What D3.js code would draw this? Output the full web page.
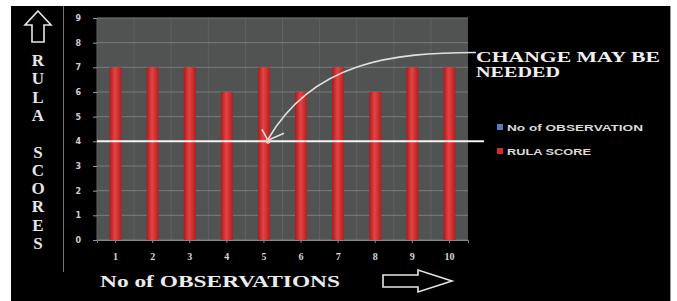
<!DOCTYPE html>
<html>
<head>
<meta charset="utf-8">
<script src="https://cdn.jsdelivr.net/npm/d3@7"></script>
<style>
  body { margin: 0; background: #fff; }
  svg { display: block; }
</style>
</head>
<body>
<div class="chart"></div>
<script>
// data
const observations = ["1", "2", "3", "4", "5", "6", "7", "8", "9", "10"];
const rulaScores = [7, 7, 7, 6, 7, 6, 7, 6, 7, 7];
const yTicks = [0, 1, 2, 3, 4, 5, 6, 7, 8, 9];
const legendItems = ["No of OBSERVATION", "RULA SCORE"];
const legendColors = ["#4f81bd", "#d42c2c"];
const thresholdScore = 4;

const W = 677, H = 301;
let margin = { top: 18, right: 209, bottom: 61, left: 97 },
    width = W - margin.left - margin.right,
    height = H - margin.top - margin.bottom;

let svg = d3.select(".chart").append("svg")
  .attr("width", W)
  .attr("height", H);

// black frame
svg.append("rect").attr("x", 11).attr("y", 6).attr("width", 659).attr("height", H - 6).attr("fill", "#000");
svg.append("line").attr("x1", 670.5).attr("x2", 670.5).attr("y1", 6).attr("y2", H)
  .attr("stroke", "#999").attr("stroke-width", 1);

let defs = svg.append("defs");
let grad = defs.append("linearGradient").attr("id", "barGrad").attr("x1", "0").attr("x2", "1").attr("y1", "0").attr("y2", "0");
grad.append("stop").attr("offset", "0%").attr("stop-color", "#a81c1c");
grad.append("stop").attr("offset", "45%").attr("stop-color", "#e84242");
grad.append("stop").attr("offset", "100%").attr("stop-color", "#b01f1f");

let g = svg.append("g").attr("transform", "translate(" + margin.left + "," + margin.top + ")");

let x = d3.scaleBand().domain(observations).range([0, width]).padding(0);
let y = d3.scaleLinear().domain([0, 9]).range([height, 0]);

g.append("rect").attr("width", width).attr("height", height).attr("fill", "#515353");

// faint vertical stripes
g.selectAll(".vgrid")
  .data(observations)
  .join("line")
  .attr("x1", d => x(d)).attr("x2", d => x(d))
  .attr("y1", 0).attr("y2", height)
  .attr("stroke", "#5e6262").attr("stroke-width", 1);

g.selectAll(".hgrid")
  .data(yTicks)
  .join("line")
  .attr("x1", 0).attr("x2", width)
  .attr("y1", d => y(d)).attr("y2", d => y(d))
  .attr("stroke", "#7a7c7c").attr("stroke-width", 1);

const barW = 12;
g.selectAll(".bar")
  .data(rulaScores)
  .join("rect")
  .attr("x", (d, i) => x(observations[i]) + x.bandwidth() / 2 - barW / 2)
  .attr("y", d => y(d))
  .attr("width", barW)
  .attr("height", d => height - y(d))
  .attr("fill", "url(#barGrad)");

// axes
let yAxis = g.append("g").call(d3.axisLeft(y).tickValues(yTicks).tickSize(4).tickPadding(12));
yAxis.select(".domain").remove();
yAxis.selectAll("line").attr("stroke", "#999");
yAxis.selectAll("text").attr("fill", "#cfcfcf").attr("font-family", "DejaVu Sans").attr("font-size", 8).attr("font-weight", "bold");

let xAxis = g.append("g").attr("transform", "translate(0," + height + ")")
  .call(d3.axisBottom(x).tickSize(3).tickPadding(10));
xAxis.select(".domain").attr("stroke", "#888");
xAxis.selectAll("line").attr("stroke", "#888");
xAxis.selectAll("text").attr("fill", "#d8d8d8").attr("font-family", "Liberation Serif").attr("font-size", 10).attr("font-weight", "bold");

// threshold line at score 4
g.append("line")
  .attr("x1", 0).attr("x2", width + 16)
  .attr("y1", y(thresholdScore)).attr("y2", y(thresholdScore))
  .attr("stroke", "#f4f4f4").attr("stroke-width", 2);

// annotation arrow
const tipX = x("5") + x.bandwidth() / 2 + 4, tipY = y(thresholdScore);
const startX = width + 8, startY = y(7.6);
g.append("path")
  .attr("d", "M" + startX + "," + startY + " C" + (startX - 83) + "," + (startY) + " " + (startX - 163) + "," + (startY + 9) + " " + tipX + "," + (tipY - 2))
  .attr("fill", "none").attr("stroke", "#e0e0e0").attr("stroke-width", 1.6);
g.append("path")
  .attr("d", "M" + (tipX - 6) + "," + (tipY - 12) + " L" + tipX + "," + (tipY - 1) + " L" + (tipX + 16) + "," + (tipY - 8))
  .attr("fill", "none").attr("stroke", "#e0e0e0").attr("stroke-width", 1.6);
g.append("circle").attr("cx", tipX).attr("cy", tipY).attr("r", 2.5).attr("fill", "#f6c8c8");

svg.append("text").attr("x", 476).attr("y", 62).text("CHANGE MAY BE")
  .attr("fill", "#f0f0f0").attr("font-family", "Liberation Serif").attr("font-weight", "bold")
  .attr("font-size", 14).attr("textLength", 184).attr("lengthAdjust", "spacingAndGlyphs");
svg.append("text").attr("x", 476).attr("y", 77).text("NEEDED")
  .attr("fill", "#f0f0f0").attr("font-family", "Liberation Serif").attr("font-weight", "bold")
  .attr("font-size", 14).attr("textLength", 84).attr("lengthAdjust", "spacingAndGlyphs");

// legend
let legend = svg.append("g").attr("transform", "translate(497,124)");
legend.selectAll("rect").data(legendItems).join("rect")
  .attr("x", 0).attr("y", (d, i) => i * 24).attr("width", 6).attr("height", 6)
  .attr("fill", (d, i) => legendColors[i]);
legend.selectAll("text").data(legendItems).join("text")
  .attr("x", 10).attr("y", (d, i) => i * 24 + 7)
  .attr("fill", "#dcdcdc").attr("font-family", "Liberation Sans").attr("font-weight", "bold").attr("font-size", 9)
  .attr("textLength", (d, i) => i === 0 ? 136 : 84).attr("lengthAdjust", "spacingAndGlyphs")
  .text(d => d);

// y title: stacked letters with up arrow
svg.append("line").attr("x1", 63.5).attr("x2", 63.5).attr("y1", 6).attr("y2", 272)
  .attr("stroke", "#777").attr("stroke-width", 1);
svg.append("path")
  .attr("d", "M38,11 L51,25 L44,25 L44,42 L32,42 L32,25 L25,25 Z")
  .attr("fill", "none").attr("stroke", "#e6e6e6").attr("stroke-width", 1.6);
const yTitle = ["R", "U", "L", "A", "", "S", "C", "O", "R", "E", "S"];
svg.selectAll(".ytitle").data(yTitle).join("text")
  .attr("x", 38).attr("y", (d, i) => 66 + i * 18.3)
  .attr("text-anchor", "middle")
  .attr("fill", "#e6e6e6").attr("font-family", "Liberation Serif").attr("font-weight", "bold").attr("font-size", 17)
  .text(d => d);

// x title with right arrow
svg.append("text").attr("x", 100).attr("y", 287).text("No of OBSERVATIONS")
  .attr("fill", "#ececec").attr("font-family", "Liberation Serif").attr("font-weight", "bold")
  .attr("font-size", 17).attr("textLength", 240).attr("lengthAdjust", "spacingAndGlyphs");
svg.append("path")
  .attr("d", "M383,275 L418,275 L418,270 L452,281 L418,292 L418,287 L383,287 Z")
  .attr("fill", "none").attr("stroke", "#e6e6e6").attr("stroke-width", 1.6);
</script>
</body>
</html>
